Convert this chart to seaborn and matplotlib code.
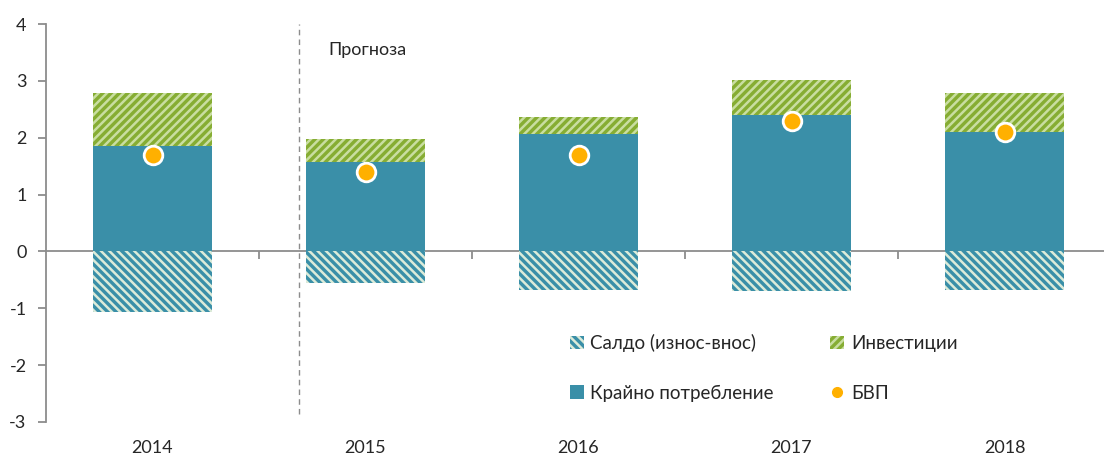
import matplotlib
matplotlib.use("Agg")
import matplotlib.pyplot as plt
import seaborn as sns
import pandas as pd
import numpy as np
from matplotlib.patches import Patch
from matplotlib.lines import Line2D

years = ["2014", "2015", "2016", "2017", "2018"]
consumption = [1.86, 1.58, 2.06, 2.40, 2.10]
investment = [0.93, 0.39, 0.31, 0.62, 0.69]
net_exports = [-1.07, -0.55, -0.67, -0.70, -0.67]
gdp = [1.7, 1.4, 1.7, 2.3, 2.1]
yticks = [-3, -2, -1, 0, 1, 2, 3, 4]

lbl_saldo = "Салдо (износ-внос)"
lbl_inv = "Инвестиции"
lbl_cons = "Крайно потребление"
lbl_gdp = "БВП"
forecast_text = "Прогноза"

TEAL = "#3A8FA8"
GREEN = "#86AD33"
LIGHT_T = "#DCEBD9"
LIGHT_G = "#C9DEA1"
ORANGE = "#FFB000"
GRAY = "#8C8C8C"

sns.set_style("white")
plt.rcParams["font.family"] = ["Lato", "DejaVu Sans"]
plt.rcParams["hatch.linewidth"] = 1.8

df = pd.DataFrame({"year": years, "cons": consumption, "inv": investment,
                   "net": net_exports, "gdp": gdp})

fig = plt.figure(figsize=(11.04, 4.57), dpi=100)
ax = fig.add_axes([46 / 1104, 35 / 457, (1111 - 46) / 1104, (422 - 24) / 457])

sns.barplot(data=df, x="year", y="cons", ax=ax, color=TEAL, width=0.555,
            saturation=1, linewidth=0, edgecolor=TEAL)
sns.barplot(data=df, x="year", y="inv", ax=ax, bottom=df["cons"].values,
            color=GREEN, width=0.555, saturation=1, linewidth=0,
            edgecolor=LIGHT_G, hatch="////")
sns.barplot(data=df, x="year", y="net", ax=ax, color=TEAL, width=0.555,
            saturation=1, linewidth=0, edgecolor=LIGHT_T, hatch="\\\\\\\\")
sns.scatterplot(data=df, x="year", y="gdp", ax=ax, color=ORANGE, s=180,
                edgecolor="white", linewidth=2, zorder=5)

ax.set_xlim(-0.5, 4.5)
ax.set_ylim(-3, 4)
ax.set_yticks(yticks)
ax.set_yticklabels([str(v) for v in yticks])
ax.set_xlabel("")
ax.set_ylabel("")

for s in ["top", "right", "bottom"]:
    ax.spines[s].set_visible(False)
ax.spines["left"].set_color(GRAY)
ax.spines["left"].set_linewidth(1.3)
ax.tick_params(axis="y", left=True, length=6, width=1.3, color=GRAY,
               labelsize=13, pad=8)
ax.tick_params(axis="x", bottom=False, length=0, labelsize=13, pad=13)

sec = ax.secondary_xaxis(3 / 7)
sec.set_xticks(np.arange(len(years) - 1) + 0.5)
sec.set_xticklabels([])
sec.tick_params(axis="x", direction="out", length=6, width=1.3, color=GRAY)
sec.spines["bottom"].set_color(GRAY)
sec.spines["bottom"].set_linewidth(1.3)
for s in ["top", "left", "right"]:
    sec.spines[s].set_visible(False)

ax.axvline(0.69, ymin=0.02, ymax=1, color=GRAY, linestyle=(0, (4, 3)), linewidth=1)
ax.text(0.825, 3.55, forecast_text, fontsize=13, ha="left", va="center")

handles = [
    Patch(facecolor=TEAL, edgecolor=LIGHT_T, hatch="\\\\\\\\", linewidth=0),
    Patch(facecolor=TEAL, edgecolor=TEAL, linewidth=0),
    Patch(facecolor=GREEN, edgecolor=LIGHT_G, hatch="////", linewidth=0),
    Line2D([], [], marker="o", linestyle="", color=ORANGE, markersize=7),
]
labels = [lbl_saldo, lbl_cons, lbl_inv, lbl_gdp]
ax.legend(handles, labels, ncol=2, frameon=False, fontsize=13.5,
          bbox_to_anchor=(553 / 1104, 1 - 317 / 457), loc="upper left",
          bbox_transform=fig.transFigure, handlelength=0.75, handleheight=0.75,
          handletextpad=0.35, labelspacing=1.75, columnspacing=3.0)

fig.savefig("out.png", dpi=100)
